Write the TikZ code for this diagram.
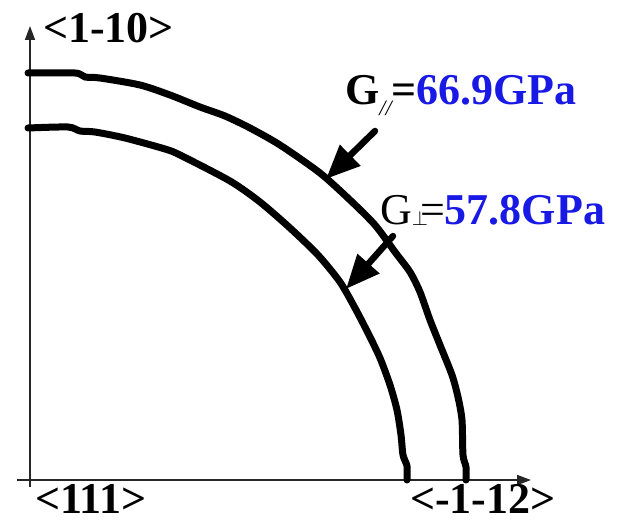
\documentclass[tikz,border=0pt]{standalone}
\usepackage{fontspec}
\setmainfont{Liberation Serif}
\usetikzlibrary{arrows.meta}
\definecolor{valblue}{RGB}{25,25,230}
\tikzset{
  curve/.style={line width=7pt, line join=round, line cap=round},
  axisline/.style={line width=1.6pt, draw=black!85, -{Triangle[length=14pt,width=10pt]}},
  callout/.style={line width=6.5pt, line cap=round, -{Triangle[length=34pt,width=28pt]}},
  lab/.style={anchor=base west, inner sep=0pt, font=\fontsize{44}{48}\selectfont\bfseries},
}
\begin{document}
\begin{tikzpicture}[x=1pt,y=-1pt]
\useasboundingbox (0,0) rectangle (619,524);
% axes
\coordinate (o1) at (30,487);
\coordinate (ytip) at (30,26);
\coordinate (o2) at (17,480);
\coordinate (xtip) at (531,480);
\draw[axisline] (o1) -- (ytip);
\draw[axisline] (o2) -- (xtip);
% curves
\draw[curve] plot[smooth, tension=0.45] coordinates {(28,73) (75,73) (85,77) (100,78) (140,85) (170,95) (200,107) (225,116) (250,128) (280,145) (320,173) (350,200) (375,225) (395,252) (410,272) (420,292) (430,320) (440,345) (452,375) (458,397) (462,420) (463,455) (466,467) (466,480)};
\draw[curve] plot[smooth, tension=0.45] coordinates {(28,128) (68,127) (80,131) (95,132) (125,138) (165,149) (180,155) (230,181) (260,202) (290,228) (318,255) (340,282) (355,308) (368,333) (380,358) (390,385) (397,410) (401,435) (403,455) (407,466) (407,480)};
% callout arrows
\coordinate (t1) at (375,131);
\coordinate (h1) at (326,179);
\coordinate (t2) at (393,236);
\coordinate (h2) at (346,289);
\draw[callout] (t1) -- (h1);
\draw[callout] (t2) -- (h2);
% axis labels
\node[lab] (ylab) at (43,43) {<1-10>};
\node[lab] (olab) at (35,513) {<111>};
\node[lab] (xlab) at (410,513) {<-1-12>};
% value labels
\node[lab] (g1) at (345,105) {G\raisebox{-11pt}{\fontsize{22}{22}\selectfont\mdseries\itshape //}=\textcolor{valblue}{66.9GPa}};
\node[lab] (g2) at (380,225) {\mdseries G\raisebox{-1pt}{\fontsize{20}{20}\selectfont$\perp$}\kern-8pt=\textcolor{valblue}{\bfseries 57.8GPa}};
\end{tikzpicture}
\end{document}
